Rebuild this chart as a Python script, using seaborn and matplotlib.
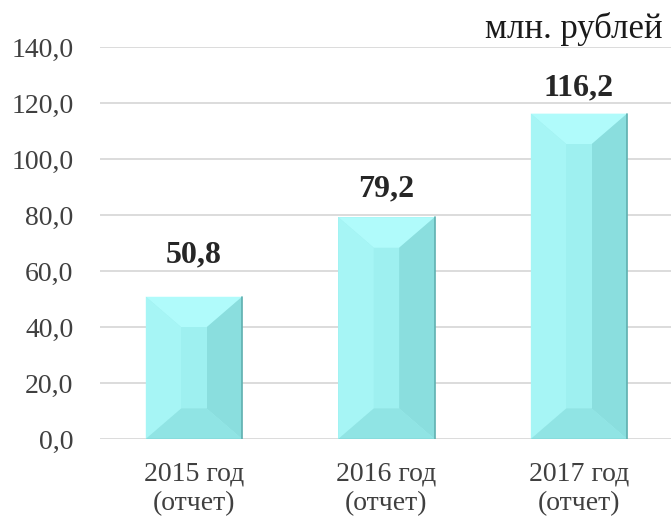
import matplotlib
matplotlib.use("Agg")
import pandas as pd
import seaborn as sns
import matplotlib.pyplot as plt

# chart data
years = ["2015 год\n(отчет)", "2016 год\n(отчет)", "2017 год\n(отчет)"]
values = [50.8, 79.2, 116.2]
y_ticks = [0, 20, 40, 60, 80, 100, 120, 140]

df = pd.DataFrame({"year": years, "value": values})

sns.set_style("white")
plt.rcParams["font.family"] = ["Liberation Serif", "DejaVu Serif"]

fig = plt.figure(figsize=(6.71, 5.18), dpi=100)
ax = fig.add_axes([100 / 671, 79 / 518, 571 / 671, 392 / 518])

sns.barplot(data=df, x="year", y="value", color="#9eeeee", width=0.5,
            saturation=1, ax=ax, zorder=2)

# fake Excel bevel: four faces inside every bar
inset_px = 35
inv = ax.transData.inverted()
for bar in ax.patches:
    bar.set_edgecolor("none")
    x0, y0 = bar.get_x(), bar.get_y()
    x1, y1 = x0 + bar.get_width(), y0 + bar.get_height()
    p0 = ax.transData.transform((x0, y0))
    p1 = ax.transData.transform((x1, y1))
    ix0, iy0 = inv.transform((p0[0] + inset_px, p0[1] + inset_px))
    ix1, iy1 = inv.transform((p1[0] - inset_px, p1[1] - inset_px))
    ax.fill([x0, x1, ix1, ix0], [y1, y1, iy1, iy1], color="#b0fbfb", zorder=3, lw=0)
    ax.fill([x0, ix0, ix0, x0], [y0, iy0, iy1, y1], color="#a6f5f5", zorder=3, lw=0)
    ax.fill([x1, ix1, ix1, x1], [y0, iy0, iy1, y1], color="#8adede", zorder=3, lw=0)
    ax.fill([x0, x1, ix1, ix0], [y0, y0, iy0, iy0], color="#90e4e4", zorder=3, lw=0)
    ax.fill([ix0, ix1, ix1, ix0], [iy0, iy0, iy1, iy1], color="#9ef0f0", zorder=3, lw=0)
    ax.plot([x1, x1], [y0, y1], color="#5fb0b0", lw=1.2, zorder=4)
    ax.plot([x0, x1], [y0, y0], color="#6cbcbc", lw=1.0, zorder=4)

# value labels (Excel placed them at slightly different heights)
label_offsets = [20, 10, 8]
for bar, v, off in zip(ax.patches, values, label_offsets):
    ax.annotate(f"{v:.1f}".replace(".", ","),
                (bar.get_x() + bar.get_width() / 2, bar.get_height()),
                xytext=(0, off), textcoords="offset points",
                ha="center", va="bottom", fontsize=23, fontweight="bold",
                color="#262626")

ax.set_ylim(0, 140)
ax.set_xlim(-0.488, 2.478)
ax.set_yticks(y_ticks)
ax.set_yticklabels([f"{t:.1f}".replace(".", ",") for t in y_ticks])
ax.yaxis.grid(True, color="#d9d9d9", lw=1.3, zorder=0)
ax.set_axisbelow(True)
ax.tick_params(axis="y", length=0, pad=19, labelsize=20, labelcolor="#404040")
ax.tick_params(axis="x", length=0, pad=16, labelsize=20, labelcolor="#404040")
for lbl in ax.get_xticklabels():
    lbl.set_linespacing(1.25)
ax.set_xlabel("")
ax.set_ylabel("")
sns.despine(ax=ax, left=True, bottom=True, top=True, right=True)

fig.text(0.987, 0.927, "млн. рублей", ha="right", va="baseline",
         fontsize=25, color="#1a1a1a")

fig.savefig("out.png", dpi=100)
